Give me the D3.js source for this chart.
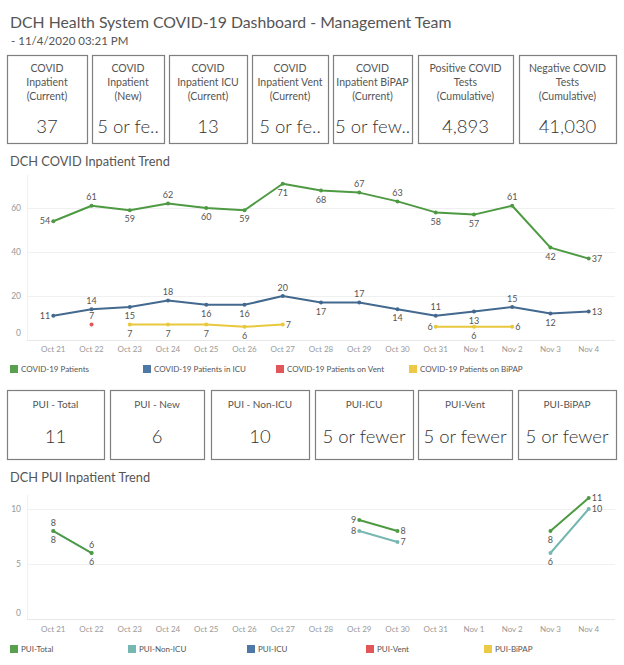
<!DOCTYPE html>
<html><head><meta charset="utf-8">
<script src="https://cdn.jsdelivr.net/npm/d3@7/dist/d3.min.js"></script>
<style>
html,body{margin:0;padding:0;background:#fff;}
svg{display:block;font-family:Lato,"Open Sans",sans-serif;}
</style></head>
<body>
<svg id="c" width="624" height="665"></svg>
<script>
// ---------- DATA ----------
const titleText = "DCH Health System COVID-19 Dashboard - Management Team";
const subtitleText = "- 11/4/2020 03:21 PM";

const kpiTitles = [
  ["COVID","Inpatient","(Current)"],
  ["COVID","Inpatient","(New)"],
  ["COVID","Inpatient ICU","(Current)"],
  ["COVID","Inpatient Vent","(Current)"],
  ["COVID","Inpatient BiPAP","(Current)"],
  ["Positive COVID","Tests","(Cumulative)"],
  ["Negative COVID","Tests","(Cumulative)"]
];
const kpiValues = ["37","5 or fe..","13","5 or fe..","5 or few..","4,893","41,030"];

const puiTitles = ["PUI - Total","PUI - New","PUI - Non-ICU","PUI-ICU","PUI-Vent","PUI-BiPAP"];
const puiValues = ["11","6","10","5 or fewer","5 or fewer","5 or fewer"];

const dates = ["Oct 21","Oct 22","Oct 23","Oct 24","Oct 25","Oct 26","Oct 27","Oct 28","Oct 29","Oct 30","Oct 31","Nov 1","Nov 2","Nov 3","Nov 4"];

const covidPatients = [54,61,59,62,60,59,71,68,67,63,58,57,61,42,37];
const icuPatients   = [11,14,15,18,16,16,20,17,17,14,11,13,15,12,13];
const ventPatients  = [null,7,null,null,null,null,null,null,null,null,null,null,null,null,null];
const bipapPatients = [null,null,7,7,7,6,7,null,null,null,6,6,6,null,null];

const covidTicks = [0,20,40,60];

const puiTotal  = [8,6,null,null,null,null,null,null,9,8,null,null,null,8,11];
const puiNonIcu = [8,6,null,null,null,null,null,null,8,7,null,null,null,6,10];
const puiIcu    = dates.map(()=>null);
const puiVent   = dates.map(()=>null);
const puiBipap  = dates.map(()=>null);
const puiTicks = [0,5,10];

// label placement (a=above, b=below, l=left, r=right)
const covidLabelPos = ["l","a","b","a","b","b","b","b","a","a","b","b","a","b","r"];
const icuLabelPos   = ["l","a","b","a","b","b","a","b","a","b","a","b","a","b","r"];
const ventLabelPos  = [null,"a",null,null,null,null,null,null,null,null,null,null,null,null,null];
const bipapLabelPos = [null,null,"b","b","b","b","r",null,null,null,"l","b","r",null,null];
const puiTotalLabelPos  = ["a","a",null,null,null,null,null,null,"l","r",null,null,null,"b","r"];
const puiNonIcuLabelPos = ["b","b",null,null,null,null,null,null,"l","r",null,null,null,"b","r"];

const colors = {
  green:"#59a14f", blue:"#4e79a7", red:"#e15759", yellow:"#edc948", teal:"#76b7b2"
};
const lineColors = {
  green:"#4e9a43", blue:"#43698f", red:"#e15759", yellow:"#e8c83c", teal:"#76b7b2"
};

// ---------- DRAW ----------
const svg = d3.select("#c");
const textCol = "#555";

svg.append("text").attr("x",10).attr("y",28).attr("font-size",15.8).attr("fill",textCol).text(titleText);
svg.append("text").attr("x",11).attr("y",45).attr("font-size",11.5).attr("fill",textCol).text(subtitleText);

// KPI cards
const kpiBoxes = [[7,87],[92,164],[169,247],[252,328],[333,412],[418,513],[519,616]];
const kpiTop = 55, kpiBottom = 143;
kpiTitles.forEach((lines,i)=>{
  const [x0,x1] = kpiBoxes[i];
  svg.append("rect").attr("x",x0+0.5).attr("y",kpiTop+0.5).attr("width",x1-x0).attr("height",kpiBottom-kpiTop)
    .attr("fill","#fff").attr("stroke","#7f7f7f").attr("stroke-width",1.2);
  const cx=(x0+x1)/2;
  lines.forEach((l,j)=>{
    svg.append("text").attr("x",cx).attr("y",68+j*14).attr("dy","0.35em").attr("text-anchor","middle")
      .attr("font-size",10.5).attr("fill",textCol).text(l);
  });
  svg.append("text").attr("x",cx).attr("y",127).attr("dy","0.35em").attr("text-anchor","middle")
    .attr("font-size",18.5).attr("font-weight",300).attr("fill","#333").text(kpiValues[i]);
});

// PUI cards
const puiBoxes = [[7,104],[110,204],[211,309],[315,413],[418,512],[518,616]];
const puiTop=390, puiBottom=459;
puiTitles.forEach((t,i)=>{
  const [x0,x1]=puiBoxes[i];
  svg.append("rect").attr("x",x0+0.5).attr("y",puiTop+0.5).attr("width",x1-x0).attr("height",puiBottom-puiTop)
    .attr("fill","#fff").attr("stroke","#7f7f7f").attr("stroke-width",1.2);
  const cx=(x0+x1)/2;
  svg.append("text").attr("x",cx).attr("y",404).attr("dy","0.35em").attr("text-anchor","middle")
    .attr("font-size",10).attr("fill",textCol).text(t);
  svg.append("text").attr("x",cx).attr("y",437).attr("dy","0.35em").attr("text-anchor","middle")
    .attr("font-size",18.5).attr("font-weight",300).attr("fill","#333").text(puiValues[i]);
});

const x = d3.scalePoint().domain(dates).range([53.3,588.7]);

function drawChart(cfg){
  const g = svg.append("g");
  g.append("text").attr("x",10).attr("y",cfg.titleY).attr("font-size",12.8).attr("fill",textCol).text(cfg.title);
  const y = cfg.y;
  cfg.ticks.forEach(t=>{
    g.append("line").attr("x1",27).attr("x2",615).attr("y1",y(t)+0.5).attr("y2",y(t)+0.5)
      .attr("stroke", t===0 ? "#e8e8e8" : "#f0f0f0").attr("stroke-width",1);
    g.append("text").attr("x",21).attr("y", t===0 ? y(t)-cfg.zeroShift : y(t)).attr("dy","0.35em")
      .attr("text-anchor","end").attr("font-size",8.5).attr("fill","#999").text(t);
  });
  g.append("line").attr("x1",27.5).attr("x2",27.5).attr("y1",cfg.plotTop).attr("y2",y(0))
    .attr("stroke","#f0f0f0");
  dates.forEach(d=>{
    g.append("text").attr("x",x(d)).attr("y",cfg.xLabelY).attr("dy","0.35em").attr("text-anchor","middle")
      .attr("font-size",8).attr("fill","#999").text(d);
  });
  cfg.series.forEach(s=>{
    const pts = dates.map((d,i)=>({d, v:s.values[i], p:s.pos[i]}));
    const line = d3.line().defined(p=>p.v!==null).x(p=>x(p.d)).y(p=>y(p.v));
    g.append("path").attr("d",line(pts)).attr("fill","none").attr("stroke",s.line)
      .attr("stroke-width",2).attr("stroke-linejoin","round");
    pts.filter(p=>p.v!==null).forEach(p=>{
      g.append("circle").attr("cx",x(p.d)).attr("cy",y(p.v)).attr("r",2).attr("fill",s.line);
    });
  });
  cfg.series.forEach(s=>{
    dates.forEach((d,i)=>{
      const v=s.values[i]; const p=s.pos[i];
      if(v===null||!p) return;
      let tx=x(d), ty=y(v), anchor="middle";
      if(p==="a") ty-=8.5;
      else if(p==="b") ty+=9;
      else if(p==="l"){ tx-=3; anchor="end"; }
      else if(p==="r"){ tx+=3; anchor="start"; }
      g.append("text").attr("x",tx).attr("y",ty).attr("dy","0.35em").attr("text-anchor",anchor)
        .attr("font-size",9).attr("fill",textCol).text(v);
    });
  });
  cfg.legend.forEach((l,i)=>{
    const lx = cfg.legendX[i];
    g.append("rect").attr("x",lx).attr("y",cfg.legendY-4).attr("width",8).attr("height",8).attr("fill",l.color);
    g.append("text").attr("x",lx+11).attr("y",cfg.legendY).attr("dy","0.35em")
      .attr("font-size",8).attr("fill",textCol).text(l.name);
  });
}

drawChart({
  title:"DCH COVID Inpatient Trend", titleY:166,
  y: d3.scaleLinear().domain([0,60]).range([340,208]),
  ticks: covidTicks, zeroShift:7, plotTop:175, xLabelY:349,
  series:[
    {values:covidPatients, pos:covidLabelPos, line:lineColors.green},
    {values:icuPatients, pos:icuLabelPos, line:lineColors.blue},
    {values:ventPatients, pos:ventLabelPos, line:lineColors.red},
    {values:bipapPatients, pos:bipapLabelPos, line:lineColors.yellow}
  ],
  legend:[
    {name:"COVID-19 Patients", color:colors.green},
    {name:"COVID-19 Patients in ICU", color:colors.blue},
    {name:"COVID-19 Patients on Vent", color:colors.red},
    {name:"COVID-19 Patients on BiPAP", color:colors.yellow}
  ],
  legendX:[10,143,276,409], legendY:369
});

drawChart({
  title:"DCH PUI Inpatient Trend", titleY:482,
  y: d3.scaleLinear().domain([0,10]).range([619,509]),
  ticks: puiTicks, zeroShift:6, plotTop:495, xLabelY:629,
  series:[
    {values:puiNonIcu, pos:puiNonIcuLabelPos, line:lineColors.teal},
    {values:puiTotal, pos:puiTotalLabelPos, line:lineColors.green},
    {values:puiIcu, pos:dates.map(()=>null), line:lineColors.blue},
    {values:puiVent, pos:dates.map(()=>null), line:lineColors.red},
    {values:puiBipap, pos:dates.map(()=>null), line:lineColors.yellow}
  ],
  legend:[
    {name:"PUI-Total", color:colors.green},
    {name:"PUI-Non-ICU", color:colors.teal},
    {name:"PUI-ICU", color:colors.blue},
    {name:"PUI-Vent", color:colors.red},
    {name:"PUI-BiPAP", color:colors.yellow}
  ],
  legendX:[10,128,247,366,484], legendY:649
});
</script>
</body></html>
